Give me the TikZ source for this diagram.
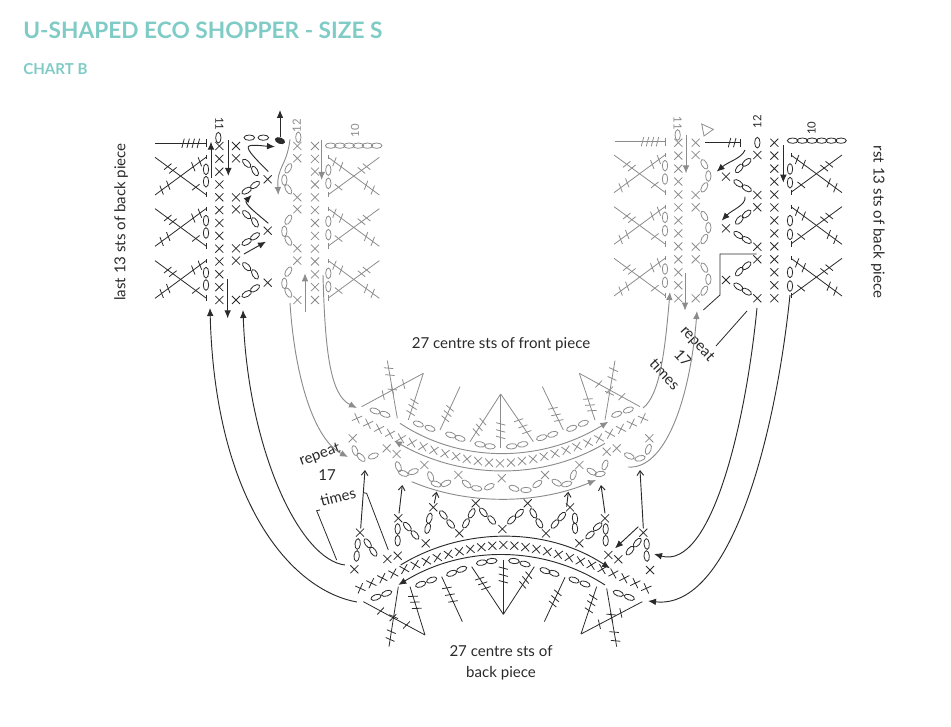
\documentclass[tikz,border=0pt]{standalone}
\usepackage{fontspec}
\setmainfont{Lato}
\usetikzlibrary{arrows.meta,calc}
\definecolor{titleteal}{HTML}{7FCBC6}
\definecolor{stink}{HTML}{2A2A2A}
\definecolor{stpale}{HTML}{8C8C8C}

% one tall stitch: line from #1 to #2 with bars at the fractions #3
\newcommand{\tallst}[3]{%
    \draw (#1) -- (#2);
    \foreach \p in {#3} \draw ($(#1)!\p!(#2)!3.6pt!75:(#2)$) -- ($(#1)!\p!(#2)!3.6pt!-105:(#2)$);
}

\begin{document}
\begin{tikzpicture}[
    x=0.75pt,y=-0.75pt,
    line width=0.6pt,
    xmark/.pic={\draw (-3pt,-3pt) -- (3pt,3pt) (-3pt,3pt) -- (3pt,-3pt);},
    chainst/.pic={\draw (0,0) ellipse (4pt and 2pt);},
    fanst/.pic={
        \tallst{-153,0}{0,112}{0.25,0.35,0.8}
        \tallst{-153,113}{0,0}{0.13,0.26,0.75,0.88}
        \draw (0,-6) -- (0,6) (0,104) -- (0,120);
    },
    inkst/.style={color=stink},
    palest/.style={color=stpale},
    panel/.style={x=0.25pt,y=-0.25pt},
    thinarrow/.style={-{Latex[length=6pt,width=5pt]},line width=0.7pt},
    openarrow/.style={-{Straight Barb[length=3.5pt,width=5pt]},line width=0.7pt},
    bigarrow/.style={-{Latex[length=6pt,width=5pt]},line width=0.7pt},
    labeltext/.style={font=\fontsize{11.3}{13}\selectfont,text=stink,inner sep=0pt},
    numtext/.style={font=\fontsize{8.5}{10}\selectfont,inner sep=0pt},
]
\useasboundingbox (0,0) rectangle (951,727);

\node[anchor=west,font=\fontsize{17}{20}\selectfont\bfseries,text=titleteal,inner sep=0pt] (title) at (23,30) {U-SHAPED ECO SHOPPER - SIZE S};
\node[anchor=west,font=\fontsize{11.3}{13}\selectfont\bfseries,text=titleteal,inner sep=0pt] (chart) at (23,69) {CHART B};

\node[labeltext,rotate=90] (lastlab) at (121,222) {last 13 sts of back piece};
\node[labeltext,rotate=-90] (firstlab) at (878,222) {rst 13 sts of back piece};
\node[labeltext] (frontlab) at (501,344) {27 centre sts of front piece};
\node[labeltext] (backlab) at (501,651) {27 centre sts of};
\node[labeltext] (backlabb) at (501,673) {back piece};

\node[labeltext,rotate=20] (replefta) at (320,455) {repeat};
\node[labeltext] (repleftb) at (327,475) {17};
\node[labeltext,rotate=15] (repleftc) at (338,497) {times};
\node[labeltext,rotate=-47] (reprighta) at (697,344) {repeat};
\node[labeltext,rotate=-47] (reprightb) at (683,358) {17};
\node[labeltext,rotate=-47] (reprightc) at (665,374) {times};

% left panel, black half
\begin{scope}[shift={(100,100)},panel,inkst]
\foreach \i in {0,...,12} \pic at (358,{138+38.5*\i}) {xmark};
\foreach \y in {138,175,292,328,445,482,600} \pic at (408,\y) {xmark};
\foreach \y in {238,392,548} \pic at (503,\y) {xmark};
\foreach \dy in {0,154,310} {
    \foreach \x/\y/\a in {440/190/-45,465/213/-60,465/255/35,440/272/30} \pic[rotate=\a] at (\x,{\y+\dy}) {chainst};
    \foreach \y in {208,245} \pic[rotate=90] at (318,{\y+\dy}) {chainst};
    \pic at (318,{172+\dy}) {fanst};
}
\pic[rotate=90] at (355,113) {chainst};
\pic at (448,113) {chainst};
\pic at (490,113) {chainst};
\fill[rotate around={-20:(540,122)}] (540,122) ellipse (4pt and 2.4pt);
\tallst{165,130}{318,130}{0.55,0.65,0.75,0.85}
\draw (318,118) -- (318,142);
\node[numtext,rotate=-90] (elevena) at (358,72) {11};
\draw[thinarrow] (540,110) -- (540,30);
\draw[thinarrow] (333,235) -- (333,125);
\draw[thinarrow] (385,120) -- (385,228);
\draw[thinarrow] (505,215) .. controls (470,180) and (440,150) .. (445,140) .. controls (450,132) and (490,138) .. (525,140);
\draw[thinarrow] (505,370) .. controls (470,340) and (430,310) .. (455,285);
\draw[thinarrow] (432,462) -- (498,425);
\draw[thinarrow] (383,538) -- (383,655);
\end{scope}

% left panel, grey half
\begin{scope}[shift={(100,100)},panel,palest]
\foreach \i in {0,...,12} \pic at (645,{138+38.5*\i}) {xmark};
\foreach \y in {138,175,292,328,445,482,600} \pic at (592,\y) {xmark};
\foreach \dy in {0,154,310} {
    \foreach \x/\y/\a in {565/205/60,553/240/90,565/268/-60} \pic[rotate=\a] at (\x,{\y+\dy}) {chainst};
    \foreach \y in {210,250} \pic[rotate=90] at (685,{\y+\dy}) {chainst};
    \pic[xscale=-1] at (685,{172+\dy}) {fanst};
}
\pic[rotate=90] at (595,112) {chainst};
\foreach \i in {0,...,5} \pic at ({692+27.6*\i},137) {chainst};
\node[numtext,rotate=90] (twelvea) at (590,78) {12};
\node[numtext,rotate=90] (tena) at (765,92) {10};
\draw[thinarrow] (570,118) .. controls (560,200) and (530,200) .. (535,285);
\draw[thinarrow] (665,120) -- (665,240);
\draw[thinarrow] (615,635) -- (615,520);
\end{scope}

% right panel, grey half
\begin{scope}[shift={(600,100)},panel,palest]
\foreach \i in {0,...,12} \pic at (235,{128+38.9*\i}) {xmark};
\foreach \y in {128,165,285,322,440,478,595} \pic at (287,\y) {xmark};
\foreach \dy in {0,155,310} {
    \foreach \x/\y/\a in {313/193/-60,325/228/90,313/262/60} \pic[rotate=\a] at (\x,{\y+\dy}) {chainst};
    \foreach \y in {197,237} \pic[rotate=90] at (195,{\y+\dy}) {chainst};
    \pic at (195,{165+\dy}) {fanst};
}
\pic[rotate=90] at (233,105) {chainst};
\tallst{45,125}{195,125}{0.55,0.65,0.75,0.85}
\draw (195,113) -- (195,137);
\node[numtext,rotate=-90] (elevenb) at (233,70) {11};
\draw (305,72) -- (340,88) -- (312,108) -- cycle;
\draw[thinarrow] (258,105) -- (258,220);
\draw[thinarrow] (255,520) -- (255,632);
\end{scope}

% right panel, black half
\begin{scope}[shift={(600,100)},panel,inkst]
\foreach \i in {0,...,12} \pic at (523,{128+38.9*\i}) {xmark};
\foreach \y in {165,285,322,440,478,595} \pic at (472,\y) {xmark};
\foreach \y in {230,385,540} \pic at (378,\y) {xmark};
\foreach \dy in {0,155,310} {
    \foreach \x/\y/\a in {440/187/40,418/205/50,415/250/-35,440/265/-30} \pic[rotate=\a] at (\x,{\y+\dy}) {chainst};
    \foreach \y in {207,248} \pic[rotate=90] at (570,{\y+\dy}) {chainst};
    \pic[xscale=-1] at (573,{165+\dy}) {fanst};
}
\pic[rotate=90] at (472,128) {chainst};
\foreach \i in {0,...,5} \pic at ({578+29*\i},122) {chainst};
\tallst{315,128}{420,128}{0.7,0.85}
\draw (420,116) -- (420,140);
\node[numtext,rotate=90] (twelveb) at (472,65) {12};
\node[numtext,rotate=90] (tenb) at (635,85) {10};
\draw[thinarrow] (435,150) .. controls (425,175) and (385,185) .. (350,215);
\draw[thinarrow] (435,290) .. controls (440,315) and (395,330) .. (365,362);
\draw[thinarrow] (550,135) -- (550,248);
\draw (310,630) -- (360,585) -- (360,462) -- (470,462);
\end{scope}

% centre, front piece
\begin{scope}[shift={(290,330)},panel,palest]
\foreach \i in {-13,...,13} \pic[rotate={\i*1.6}] at ({630+33*\i},{400-135*pow(abs(\i)/13,1.6)}) {xmark};
\foreach \x/\y/\a in {255/243/-20,285/253/-20,385/282/-20,420/295/-20,482/315/-18,510/325/-18,570/343/-10,600/349/-5,
    665/349/5,698/343/10,755/323/18,788/313/18,845/295/20,880/280/20,980/253/20,1015/240/20} \pic[rotate=\a] at (\x,\y) {chainst};
\foreach \x/\y in {188/325,290/355,320/372,403/405,505/435,635/445,765/435,868/405,950/365,980/355,1078/325} \pic at (\x,\y) {xmark};
\foreach \x/\y/\a in {195/362/-70,213/382/-45,250/378/20,325/410/-70,340/430/-20,370/425/20,422/440/-70,438/462/-20,468/460/25,
    530/462/-40,560/475/-10,598/470/25,672/475/-20,708/480/0,742/462/35,800/458/-30,830/462/15,850/435/70,
    905/425/-30,930/432/10,945/405/70,1018/378/-25,1050/385/15,1075/358/70} \pic[rotate=\a] at (\x,\y) {chainst};
\tallst{215,230}{400,130}{0.35,0.5,0.68}
\tallst{400,130}{355,270}{0.6,0.72,0.85}
\tallst{292,92}{322,265}{0.13,0.25,0.5}
\tallst{510,170}{450,300}{0.5,0.62,0.74}
\tallst{540,335}{632,192}{0.2,0.3,0.42}
\tallst{632,192}{632,355}{0.55,0.68,0.8}
\tallst{632,192}{730,335}{0.55,0.68,0.8}
\tallst{757,170}{820,300}{0.5,0.65,0.78}
\tallst{1050,230}{868,130}{0.3,0.5,0.68}
\tallst{868,130}{915,270}{0.55,0.68,0.8}
\tallst{975,92}{945,270}{0.15,0.3,0.55}
\draw[thinarrow] (330,280) .. controls (520,405) and (760,395) .. (955,275);
\draw[thinarrow] (945,340) .. controls (760,450) and (520,450) .. (312,332);
\draw[thinarrow] (365,455) .. controls (530,525) and (740,525) .. (918,450);
\end{scope}

% centre, back piece
\begin{scope}[shift={(300,480)},panel,inkst]
\foreach \i in {-13,...,13} \pic[rotate={-\i*1.6}] at ({610+33*\i},{195+130*pow(abs(\i)/13,1.6)}) {xmark};
\foreach \x/\y/\a in {228/352/20,260/340/20,362/313/20,395/300/20,455/280/20,485/268/20,545/248/10,575/243/5,
    642/243/-5,675/252/-15,735/272/-20,762/280/-20,822/300/-20,855/312/-20,955/340/-20,988/352/-20} \pic[rotate=\a] at (\x,\y) {chainst};
\foreach \x/\y in {163/268,180/158,262/237,293/227,295/115,377/190,400/82,478/160,527/70,607/147,683/70,738/160,810/82,838/190,915/115,925/225,955/238,1030/158,1050/270} \pic at (\x,\y) {xmark};
\foreach \x/\y/\a in {170/228/85,173/192/85,203/190/-55,220/215/-55,293/182/90,293/147/90,322/140/-50,345/165/-50,
    383/145/75,388/115/75,430/105/-50,452/132/-50,498/130/60,515/100/60,550/97/-50,575/120/-50,
    635/120/45,658/100/45,700/100/-60,718/130/-60,765/132/50,785/110/50,825/115/-85,825/145/-85,
    870/165/40,893/140/40,917/147/90,917/182/90,990/212/50,1012/188/50,1040/192/-85,1040/228/-85} \pic[rotate=\a] at (\x,\y) {chainst};
\tallst{190,365}{375,465}{0.28,0.48,0.7}
\tallst{375,465}{330,320}{0.55,0.68,0.8}
\tallst{267,500}{295,320}{0.12,0.25,0.5}
\tallst{487,425}{425,290}{0.45,0.6,0.75}
\tallst{515,260}{610,403}{0.25,0.35,0.45}
\tallst{610,240}{610,403}{0.15,0.28,0.4}
\tallst{610,403}{703,260}{0.62,0.72,0.82}
\tallst{733,425}{795,292}{0.4,0.52,0.65}
\tallst{1027,365}{843,462}{0.35,0.5,0.7}
\tallst{843,462}{890,320}{0.5,0.65,0.78}
\tallst{950,500}{920,325}{0.1,0.25,0.55}
\draw[bigarrow] (302,255) .. controls (490,140) and (740,140) .. (930,265);
\draw[bigarrow] (915,315) .. controls (730,195) and (490,195) .. (295,315);
\draw[openarrow] (182,145) -- (195,-30);
\draw[openarrow] (297,100) -- (307,15);
\draw[openarrow] (403,70) -- (410,35);
\draw[openarrow] (800,80) -- (805,35);
\draw[openarrow] (915,100) -- (903,15);
\draw[openarrow] (1030,145) -- (1020,-30);
\draw[thinarrow] (1015,140) -- (945,205);
\draw (60,90) -- (50,92) -- (110,240);
\draw (190,38) -- (200,40) -- (265,210);
\end{scope}

% long connectors between the pieces
\begin{scope}[inkst]
\draw[bigarrow] (357,602) .. controls (290,590) and (215,500) .. (210,308);
\draw[bigarrow] (345,565) .. controls (300,560) and (248,450) .. (243,310);
\draw[bigarrow] (757,308) .. controls (745,430) and (710,570) .. (654,554);
\draw[bigarrow] (790,295) .. controls (775,440) and (730,610) .. (648,601);
\draw (716,346) -- (747,311);
\end{scope}
\begin{scope}[palest]
\draw[bigarrow] (323,275) .. controls (325,350) and (330,395) .. (357,408);
\draw[bigarrow] (290,303) .. controls (295,380) and (315,440) .. (348,457);
\draw[bigarrow] (643,408) .. controls (660,395) and (665,350) .. (670,292);
\draw[bigarrow] (628,467) .. controls (665,470) and (690,400) .. (697,311);
\end{scope}
\end{tikzpicture}
\end{document}
